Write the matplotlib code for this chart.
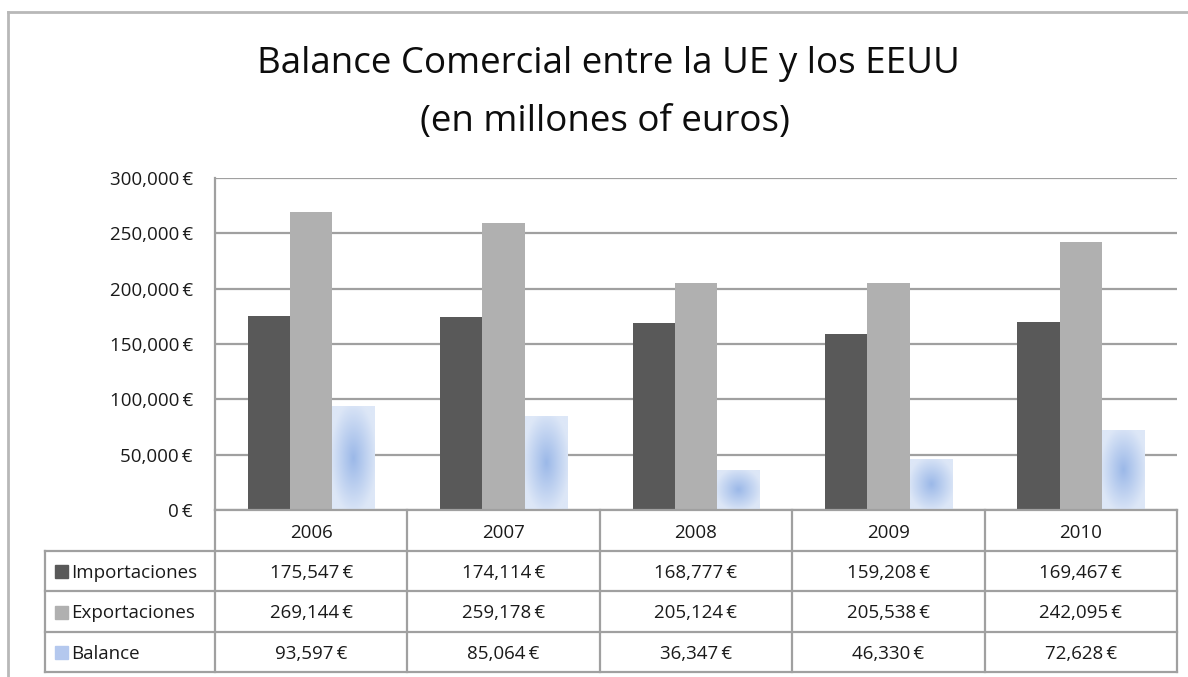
import numpy as np
import matplotlib
matplotlib.use('Agg')
import matplotlib.pyplot as plt
from matplotlib.colors import to_rgb
from matplotlib.ticker import FuncFormatter

# ---------------- data ----------------
years = ['2006', '2007', '2008', '2009', '2010']
importaciones = [175547, 174114, 168777, 159208, 169467]
exportaciones = [269144, 259178, 205124, 205538, 242095]
balance = [93597, 85064, 36347, 46330, 72628]
series_names = ['Importaciones', 'Exportaciones', 'Balance']
title_lines = ['Balance Comercial entre la UE y los EEUU', '(en millones of euros)']
yticks = [0, 50000, 100000, 150000, 200000, 250000, 300000]

plt.rcParams['font.family'] = ['Open Sans', 'DejaVu Sans']

W, H = 1188, 677
fig = plt.figure(figsize=(W / 100, H / 100), dpi=100)
fig.patch.set_facecolor('white')


def fx(px):
    return px / W


def fy(py):
    return 1 - py / H


GRID = '#a0a0a0'
TXT = '#1a1a1a'
C_IMP = '#595959'
C_EXP = '#b0b0b0'
C_BAL_CENTER = np.array(to_rgb('#9bb8e8'))
C_BAL_EDGE = np.array(to_rgb('#dde7f7'))
FS = 13.5

L, R, T, B = 215, 1177, 178, 510
ax = fig.add_axes([fx(L), fy(B), (R - L) / W, (B - T) / H])

x = np.arange(len(years))
bw = 0.22
ax.bar(x - bw, importaciones, bw, color=C_IMP, zorder=3)
ax.bar(x, exportaciones, bw, color=C_EXP, zorder=3)
bal_bars = ax.bar(x + bw, balance, bw, color='none', zorder=3)

# radial gradient fill for Balance bars
n = 80
u = np.linspace(-1, 1, n)
U, V = np.meshgrid(u, u)
d = np.clip(np.sqrt(U ** 2 + V ** 2) / 1.1, 0, 1)
img = C_BAL_CENTER[None, None, :] * (1 - d[..., None]) + C_BAL_EDGE[None, None, :] * d[..., None]
for bar in bal_bars:
    x0, y0 = bar.get_x(), bar.get_y()
    w, h = bar.get_width(), bar.get_height()
    im = ax.imshow(img, extent=[x0, x0 + w, y0, y0 + h], aspect='auto',
                   zorder=3, interpolation='bilinear')
    im.set_clip_path(bar)

ax.set_xlim(-0.5, len(years) - 0.5)
ax.set_ylim(0, 300000)
ax.set_aspect('auto')
ax.set_yticks(yticks)
ax.yaxis.set_major_formatter(FuncFormatter(lambda v, p: f"{v:,.0f}\u2009€"))
ax.tick_params(axis='y', length=0, pad=16, labelsize=FS, labelcolor=TXT)
ax.set_xticks([])
ax.grid(axis='y', color=GRID, lw=1.6)
ax.set_axisbelow(True)
for s in ['top', 'right', 'bottom']:
    ax.spines[s].set_visible(False)
ax.spines['left'].set_color(GRID)
ax.spines['left'].set_linewidth(1.6)

# ---------------- overlay for table and frame ----------------
ov = fig.add_axes([0, 0, 1, 1])
ov.set_xlim(0, W)
ov.set_ylim(H, 0)
ov.axis('off')
ov.patch.set_alpha(0)

ov.plot([8, W], [12, 12], color='#b8b8b8', lw=2)
ov.plot([8, 8], [12, H], color='#b8b8b8', lw=2)

col_edges = np.linspace(L, R, len(years) + 1)
row_edges = [510, 551, 591, 632, 672]
tbl_left = 45

ov.plot([L, R], [row_edges[0], row_edges[0]], color=GRID, lw=1.6)
for yy in row_edges[1:]:
    ov.plot([tbl_left, R], [yy, yy], color=GRID, lw=1.6)
for xx in col_edges:
    ov.plot([xx, xx], [row_edges[0], row_edges[-1]], color=GRID, lw=1.6)
ov.plot([tbl_left, tbl_left], [row_edges[1], row_edges[-1]], color=GRID, lw=1.6)

dy = 2
for i, yr in enumerate(years):
    cx = (col_edges[i] + col_edges[i + 1]) / 2
    ov.text(cx, (row_edges[0] + row_edges[1]) / 2 + dy, yr, ha='center', va='center',
            fontsize=FS, color=TXT)

rows = [importaciones, exportaciones, balance]
sw_colors = [C_IMP, C_EXP, '#b4c8ee']
for r, (name, vals) in enumerate(zip(series_names, rows)):
    cy = (row_edges[r + 1] + row_edges[r + 2]) / 2
    ov.add_patch(plt.Rectangle((55, cy - 6), 13, 13, color=sw_colors[r]))
    ov.text(71, cy + dy, name, ha='left', va='center', fontsize=FS, color=TXT)
    for i, v in enumerate(vals):
        cx = (col_edges[i] + col_edges[i + 1]) / 2
        ov.text(cx, cy + dy, f"{v:,.0f}\u2009€", ha='center', va='center',
                fontsize=FS, color=TXT)

fig.text(fx(608), fy(64), title_lines[0], ha='center', va='center', fontsize=26.5,
         fontweight='medium', color='#0d0d0d')
fig.text(fx(605), fy(122), title_lines[1], ha='center', va='center', fontsize=26.5,
         fontweight='medium', color='#0d0d0d')

fig.savefig('out.png', dpi=100, facecolor='white')
